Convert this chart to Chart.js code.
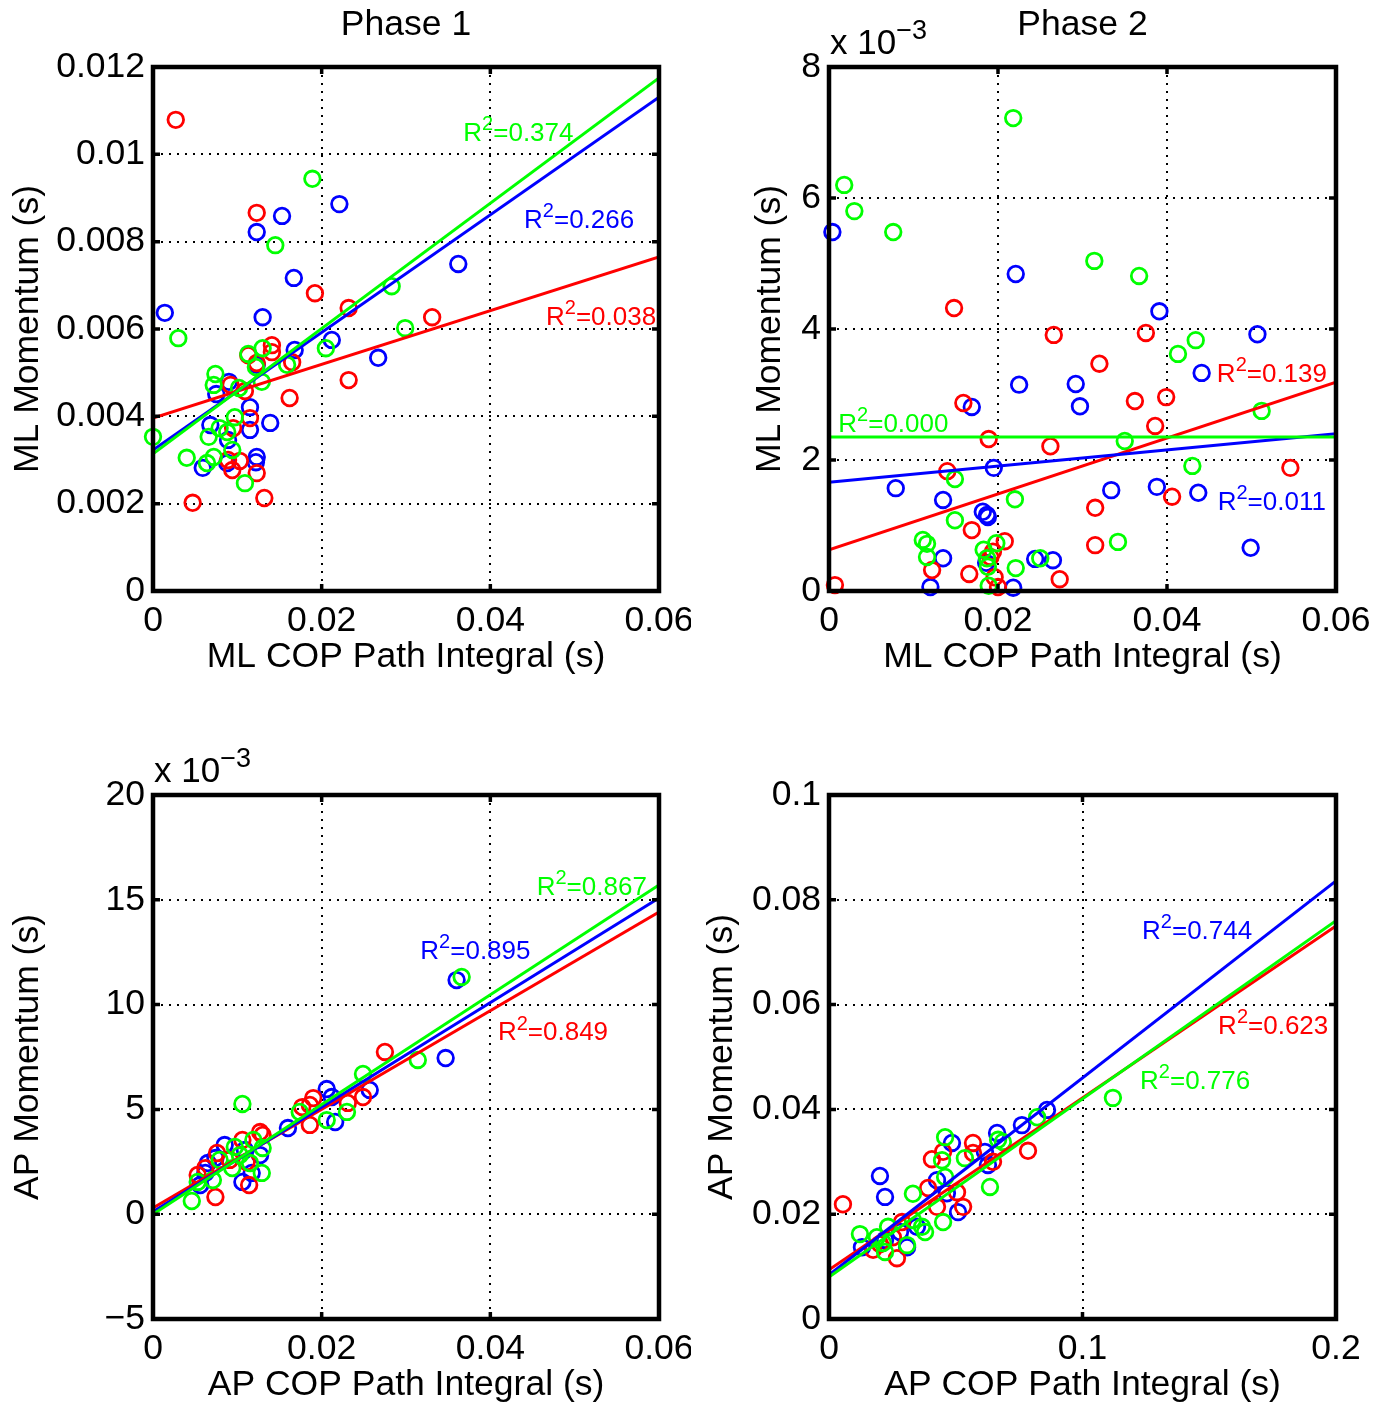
<!DOCTYPE html>
<html>
<head>
<meta charset="utf-8">
<script src="https://cdn.jsdelivr.net/npm/chart.js@4.4.0/dist/chart.umd.min.js"></script>
<style>
  html, body { margin:0; padding:0; background:#fff; }
  #wrap { position:relative; width:1383px; height:1406px; overflow:hidden; }
  canvas { position:absolute; }
</style>
</head>
<body>
<div id="wrap">
  <canvas id="c1" width="691" height="700" style="left:0;top:0"></canvas>
  <canvas id="c2" width="692" height="700" style="left:691px;top:0"></canvas>
  <canvas id="c3" width="691" height="706" style="left:0;top:700px"></canvas>
  <canvas id="c4" width="692" height="706" style="left:691px;top:700px"></canvas>
</div>
<script>
// ===============================
// Datos
// ===============================

// Phase 1 — ML (x: COP path integral, y: momentum)
const p1mlBlueX  = [0.0014,0.0123,0.0153,0.0221,0.0167,0.0130,0.0362,0.0212,0.0267,0.0168,0.0123,0.0090,0.0075,0.0115,0.0139,0.0068,0.0115,0.0089,0.0123,0.0122,0.0059,0.0088];
const p1mlBlueY  = [0.00637,0.00822,0.00859,0.00886,0.00717,0.00627,0.00749,0.00575,0.00534,0.00552,0.00518,0.00479,0.00451,0.00421,0.00385,0.00380,0.00369,0.00346,0.00307,0.00295,0.00282,0.00293];
const p1mlRedX   = [0.0027,0.0123,0.0192,0.0232,0.0331,0.0141,0.0141,0.0113,0.0123,0.0165,0.0092,0.0109,0.0232,0.0162,0.0115,0.0095,0.0089,0.0103,0.0094,0.0123,0.0047,0.0132];
const p1mlRedY   = [0.01079,0.00866,0.00682,0.00648,0.00627,0.00563,0.00547,0.00540,0.00522,0.00524,0.00472,0.00458,0.00483,0.00442,0.00396,0.00373,0.00300,0.00298,0.00277,0.00270,0.00202,0.00213];
const p1mlGreenX = [0.0189,0.0145,0.0283,0.0299,0.0030,0.0000,0.0205,0.0130,0.0113,0.0122,0.0159,0.0074,0.0072,0.0102,0.0129,0.0097,0.0079,0.0088,0.0066,0.0094,0.0040,0.0072,0.0064,0.0109];
const p1mlGreenY = [0.00944,0.00792,0.00698,0.00602,0.00579,0.00353,0.00556,0.00556,0.00543,0.00513,0.00518,0.00497,0.00472,0.00465,0.00479,0.00398,0.00373,0.00364,0.00353,0.00323,0.00305,0.00307,0.00293,0.00247];
const p1mlFitX   = [0, 0.06];
const p1mlFitRed   = [0.00396, 0.00765];
const p1mlFitBlue  = [0.00323, 0.01131];
const p1mlFitGreen = [0.00314, 0.01175];

// Phase 2 — ML (y en x10^-3)
const p2mlBlueX  = [0.0004,0.0221,0.0391,0.0507,0.0441,0.0225,0.0292,0.0297,0.0169,0.0195,0.0079,0.0135,0.0182,0.0187,0.0188,0.0334,0.0388,0.0437,0.0499,0.0135,0.0186,0.0244,0.0265,0.0120,0.0218];
const p2mlBlueY  = [5.48,4.84,4.27,3.92,3.33,3.15,3.16,2.82,2.81,1.88,1.57,1.39,1.21,1.16,1.13,1.54,1.59,1.50,0.66,0.50,0.43,0.49,0.47,0.06,0.05];
const p2mlRedX   = [0.0148,0.0266,0.0375,0.0320,0.0159,0.0362,0.0399,0.0386,0.0189,0.0262,0.0140,0.0546,0.0406,0.0315,0.0315,0.0169,0.0208,0.0194,0.0191,0.0122,0.0166,0.0273,0.0196,0.0007,0.0200];
const p2mlRedY   = [4.32,3.91,3.94,3.47,2.87,2.90,2.96,2.52,2.32,2.21,1.83,1.88,1.44,1.27,0.70,0.93,0.76,0.60,0.52,0.32,0.26,0.18,0.21,0.09,0.06];
const p2mlGreenX = [0.0218,0.0018,0.0030,0.0076,0.0314,0.0367,0.0434,0.0413,0.0512,0.0350,0.0430,0.0342,0.0149,0.0220,0.0149,0.0111,0.0116,0.0198,0.0183,0.0116,0.0187,0.0221,0.0250,0.0188,0.0189];
const p2mlGreenY = [7.22,6.20,5.80,5.48,5.04,4.81,3.83,3.62,2.75,2.29,1.91,0.75,1.71,1.40,1.08,0.78,0.72,0.73,0.63,0.52,0.50,0.35,0.50,0.37,0.08];
const p2mlFitX   = [0, 0.06];
const p2mlFitRed   = [0.63, 3.19];
const p2mlFitBlue  = [1.66, 2.40];
const p2mlFitGreen = [2.35, 2.35];

// Phase 1 — AP (y en x10^-3)
const p1apBlueX  = [0.0360,0.0347,0.0206,0.0257,0.0212,0.0216,0.0160,0.0085,0.0065,0.0062,0.0117,0.0106,0.0056,0.0109,0.0127,0.0074];
const p1apBlueY  = [11.17,7.45,5.97,5.93,5.59,4.40,4.11,3.30,2.44,1.97,1.97,1.54,1.39,3.06,2.82,2.68];
const p1apRedX   = [0.0275,0.0190,0.0186,0.0231,0.0249,0.0177,0.0186,0.0127,0.0130,0.0106,0.0111,0.0076,0.0062,0.0114,0.0074,0.0091,0.0053];
const p1apRedY   = [7.74,5.54,5.21,5.31,5.59,5.11,4.26,3.92,3.78,3.54,2.49,2.92,2.20,1.39,0.82,2.59,1.87];
const p1apGreenX = [0.0366,0.0314,0.0249,0.0230,0.0206,0.0174,0.0106,0.0119,0.0130,0.0097,0.0079,0.0094,0.0115,0.0129,0.0053,0.0071,0.0046,0.0103];
const p1apGreenY = [11.32,7.36,6.69,4.88,4.49,4.88,5.26,3.54,3.16,3.21,2.59,2.20,2.44,1.97,1.54,1.63,0.63,2.82];
const p1apFitX   = [0, 0.06];
const p1apFitRed   = [0.30, 14.42];
const p1apFitBlue  = [0.12, 15.09];
const p1apFitGreen = [0.00, 15.71];

// Phase 2 — AP
const p2apBlueX  = [0.0860,0.0761,0.0663,0.0485,0.0615,0.0627,0.0201,0.0221,0.0426,0.0465,0.0509,0.0347,0.0280,0.0130,0.0308,0.0221];
const p2apBlueY  = [0.0399,0.0370,0.0355,0.0336,0.0319,0.0294,0.0273,0.0233,0.0265,0.0240,0.0204,0.0176,0.0166,0.0137,0.0137,0.0151];
const p2apRedX   = [0.0785,0.0568,0.0450,0.0406,0.0568,0.0647,0.0055,0.0391,0.0505,0.0426,0.0529,0.0288,0.0252,0.0174,0.0268,0.0201];
const p2apRedY   = [0.0321,0.0336,0.0319,0.0305,0.0317,0.0300,0.0219,0.0250,0.0242,0.0214,0.0214,0.0185,0.0156,0.0132,0.0116,0.0143];
const p2apGreenX = [0.1120,0.0821,0.0667,0.0686,0.0458,0.0446,0.0536,0.0635,0.0331,0.0458,0.0450,0.0367,0.0331,0.0122,0.0233,0.0213,0.0221,0.0308,0.0189,0.0379];
const p2apGreenY = [0.0422,0.0385,0.0342,0.0338,0.0347,0.0303,0.0307,0.0252,0.0239,0.0271,0.0185,0.0176,0.0189,0.0162,0.0176,0.0145,0.0128,0.0141,0.0156,0.0166];
const p2apFitX   = [0, 0.2];
const p2apFitRed   = [0.0094, 0.0750];
const p2apFitBlue  = [0.0084, 0.0836];
const p2apFitGreen = [0.0080, 0.0760];

// Etiquetas R² (color, valor, x, y en unidades de datos)
const p1mlR2 = [["green","0.374",0.0368,0.01051],["blue","0.266",0.0440,0.00853],["red","0.038",0.0466,0.00629]];
const p2mlR2 = [["green","0.000",0.0011,2.57],["red","0.139",0.0459,3.33],["blue","0.011",0.0460,1.37]];
const p1apR2 = [["green","0.867",0.0455,15.68],["blue","0.895",0.0317,12.61],["red","0.849",0.0409,8.72]];
const p2apR2 = [["blue","0.744",0.1235,0.0742],["red","0.623",0.1535,0.0561],["green","0.776",0.1227,0.0456]];

// ===============================
// Estilo MATLAB
// ===============================
const COL = { red:"#ff0000", green:"#00ff00", blue:"#0000ff" };
const FONT = "'Liberation Sans', Arial, Helvetica, sans-serif";
Chart.defaults.font.family = FONT;
Chart.defaults.font.size = 35.5;
Chart.defaults.color = "#000";

const fmtTick = v => {
  const s = String(+Number(v).toFixed(6));
  return s.startsWith("-") ? "\u2212" + s.slice(1) : s;
};
const pts = (xs, ys) => xs.map((x, i) => ({ x, y: ys[i] }));

// texto con superíndice: parts = [[texto, esSup], ...]
function drawRich(ctx, parts, x, y, size, color, align) {
  const supSize = Math.round(size * 0.78);
  let w = 0;
  parts.forEach(([t, sup]) => { ctx.font = `${sup ? supSize : size}px ${FONT}`; w += ctx.measureText(t).width; });
  let cx = align === "center" ? x - w / 2 : x;
  ctx.fillStyle = color;
  ctx.textAlign = "left";
  ctx.textBaseline = "alphabetic";
  parts.forEach(([t, sup]) => {
    ctx.font = `${sup ? supSize : size}px ${FONT}`;
    ctx.fillText(t, cx, sup ? y - size * 0.42 : y);
    cx += ctx.measureText(t).width;
  });
}

const matlabAxes = {
  id: "matlabAxes",
  afterDraw(chart, args, o) {
    const { ctx, chartArea: a, scales: { x, y } } = chart;
    ctx.save();
    // marco
    ctx.strokeStyle = "#000";
    ctx.lineWidth = 4.5;
    ctx.strokeRect(a.left, a.top, a.right - a.left, a.bottom - a.top);
    // ticks hacia dentro (4 lados)
    ctx.lineWidth = 3.5;
    ctx.beginPath();
    x.ticks.forEach(t => {
      const px = x.getPixelForValue(t.value);
      ctx.moveTo(px, a.bottom); ctx.lineTo(px, a.bottom - 7);
      ctx.moveTo(px, a.top);    ctx.lineTo(px, a.top + 7);
    });
    y.ticks.forEach(t => {
      const py = y.getPixelForValue(t.value);
      ctx.moveTo(a.left, py);  ctx.lineTo(a.left + 7, py);
      ctx.moveTo(a.right, py); ctx.lineTo(a.right - 7, py);
    });
    ctx.stroke();

    // títulos
    ctx.fillStyle = "#000";
    ctx.font = `35.5px ${FONT}`;
    ctx.textAlign = "center";
    ctx.textBaseline = "middle";
    const cxA = (a.left + a.right) / 2;
    if (o.title) ctx.fillText(o.title, cxA, a.top - 42);
    ctx.fillText(o.xLabel, cxA, a.bottom + 66);
    ctx.save();
    ctx.translate(o.yLabelX, (a.top + a.bottom) / 2);
    ctx.rotate(-Math.PI / 2);
    ctx.fillText(o.yLabel, 0, 0);
    ctx.restore();

    if (o.exponent) drawRich(ctx, [["x 10", false], ["\u22123", true]], a.left + 1, a.top - 13, 35, "#000", "left");

    // etiquetas R²
    (o.notes || []).forEach(([c, val, nx, ny]) => {
      const px = x.getPixelForValue(nx), py = y.getPixelForValue(ny);
      drawRich(ctx, [["R", false], ["2", true], ["=" + val, false]], px, py + 9, 26, COL[c], "left");
    });
    ctx.restore();
  }
};

function makePanel(id, p) {
  const scatter = (c, xs, ys, order) => ({
    type: "scatter", data: pts(xs, ys), order, clip: false,
    borderColor: COL[c], backgroundColor: "rgba(0,0,0,0)",
    pointRadius: 7.8, pointBorderWidth: 2.8, pointHoverRadius: 7.8
  });
  const fit = (c, ys, order) => ({
    type: "line", data: pts(p.fitX, ys), order,
    borderColor: COL[c], borderWidth: 3, pointRadius: 0, fill: false, tension: 0
  });
  const gridOpts = { color: "#000", lineWidth: 2, drawTicks: false, borderDash: [2, 6] };
  return new Chart(document.getElementById(id), {
    type: "scatter",
    data: {
      datasets: [
        fit("green", p.fitGreen, 0),
        fit("blue", p.fitBlue, 1),
        fit("red", p.fitRed, 2),
        scatter("green", p.greenX, p.greenY, 3),
        scatter("red", p.redX, p.redY, 4),
        scatter("blue", p.blueX, p.blueY, 5)
      ]
    },
    options: {
      responsive: false,
      animation: false,
      devicePixelRatio: 1,
      layout: { padding: p.pad },
      plugins: { legend: { display: false }, tooltip: { enabled: false }, matlabAxes: p.axes },
      scales: {
        x: {
          type: "linear", min: p.xr[0], max: p.xr[1],
          grid: gridOpts, border: { display: false, dash: [2, 6] },
          ticks: { stepSize: p.xr[2], padding: 9, maxRotation: 0, autoSkip: false, callback: fmtTick },
          afterFit: s => { s.height = p.pad.xh; s.paddingLeft = 0; s.paddingRight = 0; }
        },
        y: {
          type: "linear", min: p.yr[0], max: p.yr[1],
          grid: gridOpts, border: { display: false, dash: [2, 6] },
          ticks: { stepSize: p.yr[2], padding: 8, autoSkip: false, callback: fmtTick },
          afterFit: s => { s.width = p.pad.yw; s.paddingTop = 0; s.paddingBottom = 0; }
        }
      }
    },
    plugins: [matlabAxes]
  });
}

makePanel("c1", {
  xr: [0, 0.06, 0.02], yr: [0, 0.012, 0.002],
  blueX: p1mlBlueX, blueY: p1mlBlueY, redX: p1mlRedX, redY: p1mlRedY, greenX: p1mlGreenX, greenY: p1mlGreenY,
  fitX: p1mlFitX, fitRed: p1mlFitRed, fitBlue: p1mlFitBlue, fitGreen: p1mlFitGreen,
  pad: { left: 0, right: 32, top: 67, bottom: 0, yw: 153, xh: 109 },
  axes: { title: "Phase 1", xLabel: "ML COP Path Integral (s)", yLabel: "ML Momentum (s)", yLabelX: 28, notes: p1mlR2 }
});
makePanel("c2", {
  xr: [0, 0.06, 0.02], yr: [0, 8, 2],
  blueX: p2mlBlueX, blueY: p2mlBlueY, redX: p2mlRedX, redY: p2mlRedY, greenX: p2mlGreenX, greenY: p2mlGreenY,
  fitX: p2mlFitX, fitRed: p2mlFitRed, fitBlue: p2mlFitBlue, fitGreen: p2mlFitGreen,
  pad: { left: 0, right: 47, top: 67, bottom: 0, yw: 138, xh: 109 },
  axes: { title: "Phase 2", xLabel: "ML COP Path Integral (s)", yLabel: "ML Momentum (s)", yLabelX: 79, exponent: true, notes: p2mlR2 }
});
makePanel("c3", {
  xr: [0, 0.06, 0.02], yr: [-5, 20, 5],
  blueX: p1apBlueX, blueY: p1apBlueY, redX: p1apRedX, redY: p1apRedY, greenX: p1apGreenX, greenY: p1apGreenY,
  fitX: p1apFitX, fitRed: p1apFitRed, fitBlue: p1apFitBlue, fitGreen: p1apFitGreen,
  pad: { left: 0, right: 32, top: 95, bottom: 0, yw: 153, xh: 87 },
  axes: { xLabel: "AP COP Path Integral (s)", yLabel: "AP Momentum (s)", yLabelX: 28, exponent: true, notes: p1apR2 }
});
makePanel("c4", {
  xr: [0, 0.2, 0.1], yr: [0, 0.1, 0.02],
  blueX: p2apBlueX, blueY: p2apBlueY, redX: p2apRedX, redY: p2apRedY, greenX: p2apGreenX, greenY: p2apGreenY,
  fitX: p2apFitX, fitRed: p2apFitRed, fitBlue: p2apFitBlue, fitGreen: p2apFitGreen,
  pad: { left: 0, right: 47, top: 95, bottom: 0, yw: 138, xh: 87 },
  axes: { xLabel: "AP COP Path Integral (s)", yLabel: "AP Momentum (s)", yLabelX: 31, notes: p2apR2 }
});
</script>
</body>
</html>
